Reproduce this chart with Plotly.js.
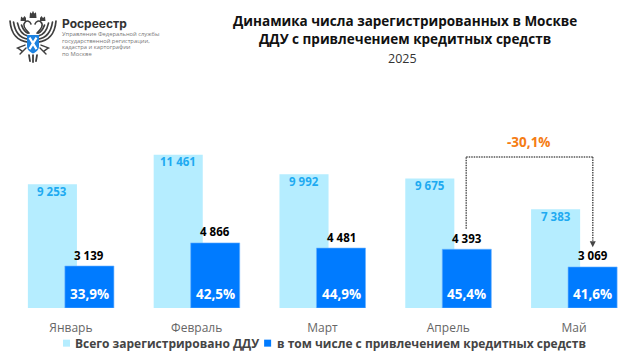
<!DOCTYPE html>
<html><head><meta charset="utf-8">
<script src="https://cdn.plot.ly/plotly-3.0.1.min.js"></script>
<style>html,body{margin:0;padding:0;background:#fff}#c{width:643px;height:361px}</style></head>
<body><div id="c"></div>
<script>
const categories=["Январь","Февраль","Март","Апрель","Май"];
const totalDdu=[9253,11461,9992,9675,7383];
const creditDdu=[3139,4866,4481,4393,3069];
const creditShare=["33,9%","42,5%","44,9%","45,4%","41,6%"];
const totalLabels=["9 253","11 461","9 992","9 675","7 383"];
const creditLabels=["3 139","4 866","4 481","4 393","3 069"];
const changeLabel="-30,1%";
const W=643,H=361;
const mL=8,mR=6.3,mT=100,mB=52.7;
const PW=W-mL-mR,PH=H-mT-mB;
const px=x=>(x-mL)/PW, py=y=>1-(y-mT)/PH;
const FONT='"Open Sans", sans-serif';
const emblem=`<svg xmlns="http://www.w3.org/2000/svg" width="55" height="55" viewBox="0 0 55 55">
<g fill="none" stroke="#3f3f3f" stroke-width="1.7" stroke-linecap="round">
<path d="M23 32 C13 31 6 24 5 11 M23 29 C15 28 10 22 8.5 12 M23 26 C18 25 14 20 12.5 13 M23 23 C20 22 18 19 16.5 15"/>
<path d="M33 32 C43 31 50 24 51 11 M33 29 C41 28 46 22 47.5 12 M33 26 C38 25 42 20 43.5 13 M33 23 C36 22 38 19 39.5 15"/>
<path d="M24 23 C20 19 17 15 20 12 C22 10 25 11 26 14 M32 23 C36 19 39 15 36 12 C34 10 31 11 30 14" stroke-width="1.5"/>
<path d="M20 35 L12 38 M36 35 L44 38 M21 38 L15 44 M35 38 L41 44 M17 41 L13 38 M39 41 L43 38" stroke-width="1.4"/>
<path d="M24 45 L25 51 M28 45 L28 52 M32 45 L31 51" stroke-width="1.8"/>
</g>
<path d="M24.5 8 L25 2 L26.8 3.5 L28 0.5 L29.2 3.5 L31 2 L31.5 8Z M15.5 11 L16 6.5 L18 8 L19.5 6 L21 8 L21 11Z M35 11 L35 8 L36.5 6 L38 8 L40 6.5 L40.5 11Z" fill="#3f3f3f"/>
<path d="M22 25 H34 V36 C34 40 31 42 28 43.5 C25 42 22 40 22 36Z" fill="#1c82e0"/>
<path d="M24.5 27.5 L31.5 39 M31.5 27.5 L24.5 39" stroke="#fff" stroke-width="2.2"/>
</svg>`;
const ann=[];
const add=(o)=>ann.push(Object.assign({showarrow:false,font:{family:FONT}},o));
const pap=(o)=>add(Object.assign({xref:'paper',yref:'paper',yanchor:'middle',xanchor:'center'},o));
categories.forEach((c,i)=>{
  add({x:c,y:totalDdu[i],xref:'x',yref:'y',xshift:-18.5,yshift:-7,text:'<b>'+totalLabels[i]+'</b>',font:{family:FONT,size:11.5,color:'#1eaaf1'}});
  add({x:c,y:creditDdu[i],xref:'x',yref:'y',xshift:18.5,yshift:11,text:'<b>'+creditLabels[i]+'</b>',font:{family:FONT,size:11.5,color:'#000'}});
  add({x:c,y:0,xref:'x',yref:'y',xshift:18.5,yshift:14,text:'<b>'+creditShare[i]+'</b>',font:{family:FONT,size:13.5,color:'#fff'}});
});
pap({x:px(404.5),y:py(29.5),align:'center',text:'<b>Динамика числа зарегистрированных в Москве<br>ДДУ с привлечением кредитных средств</b>',font:{family:FONT,size:13.5,color:'#111'}});
pap({x:px(402),y:py(58),text:'2025',font:{family:FONT,size:12.5,color:'#333'}});
pap({x:px(529),y:py(142),text:'<b>'+changeLabel+'</b>',font:{family:FONT,size:13.5,color:'#f57c14'}});
pap({xanchor:'left',x:px(59.5),y:py(23),text:'<b>Росреестр</b>',font:{family:'"Inter", sans-serif',size:12,color:'#333'}});
["Управление Федеральной службы","государственной регистрации,","кадастра и картографии","по Москве"].forEach((t,i)=>
  pap({xanchor:'left',x:px(60),y:py(34+i*6.7),text:t,font:{family:FONT,size:5.8,color:'#777'}}));
pap({xanchor:'left',x:px(72.5),y:py(343.5),text:'<b>Всего зарегистрировано ДДУ</b>',font:{family:FONT,size:12,color:'#444'}});
pap({xanchor:'left',x:px(275),y:py(343.5),text:'<b>в том числе с привлечением кредитных средств</b>',font:{family:FONT,size:12,color:'#444'}});
const sq=(x,y,s,c)=>({type:'rect',xref:'paper',yref:'paper',x0:px(x),x1:px(x+s),y0:py(y+s),y1:py(y),fillcolor:c,line:{width:0}});
const line=(a,b,c,d)=>({type:'line',xref:'paper',yref:'paper',x0:px(a),y0:py(b),x1:px(c),y1:py(d),line:{color:'#555',width:1.5,dash:'1.5px,1px'}});
const shapes=[sq(63,340,7,'#b5edff'),sq(264,340,7,'#007bff'),
  line(466,229,466,157),line(466,157,592.5,157),line(592.5,157,592.5,241),
  {type:'path',xref:'paper',yref:'paper',path:`M ${px(589.5)} ${py(241.5)} L ${px(595.5)} ${py(241.5)} L ${px(592.5)} ${py(247.5)} Z`,fillcolor:'#444',line:{width:0}}];
Plotly.newPlot('c',[
 {type:'bar',name:'Всего зарегистрировано ДДУ',x:categories,y:totalDdu,width:0.39,offset:-0.342,marker:{color:'#b5edff'},hoverinfo:'skip'},
 {type:'bar',name:'в том числе с привлечением кредитных средств',x:categories,y:creditDdu,width:0.39,offset:-0.048,marker:{color:'#007bff',line:{color:'#6db4ff',width:0.6}},hoverinfo:'skip'}
],{
 width:W,height:H,barmode:'overlay',showlegend:false,paper_bgcolor:'#fff',plot_bgcolor:'#fff',
 margin:{l:mL,r:mR,t:mT,b:mB,pad:0},
 xaxis:{type:'category',categoryorder:'array',categoryarray:categories,tickfont:{family:FONT,size:12,color:'#666'},showline:false,showgrid:false,ticks:'',ticklabelstandoff:11},
 yaxis:{range:[0,15545],visible:false,fixedrange:true},
 annotations:ann,shapes:shapes,
 images:[{source:'data:image/svg+xml;charset=utf-8,'+encodeURIComponent(emblem),xref:'paper',yref:'paper',x:px(5),y:py(10),sizex:55/PW,sizey:55/PH,xanchor:'left',yanchor:'top',layer:'above'}]
},{staticPlot:true});
</script></body></html>
